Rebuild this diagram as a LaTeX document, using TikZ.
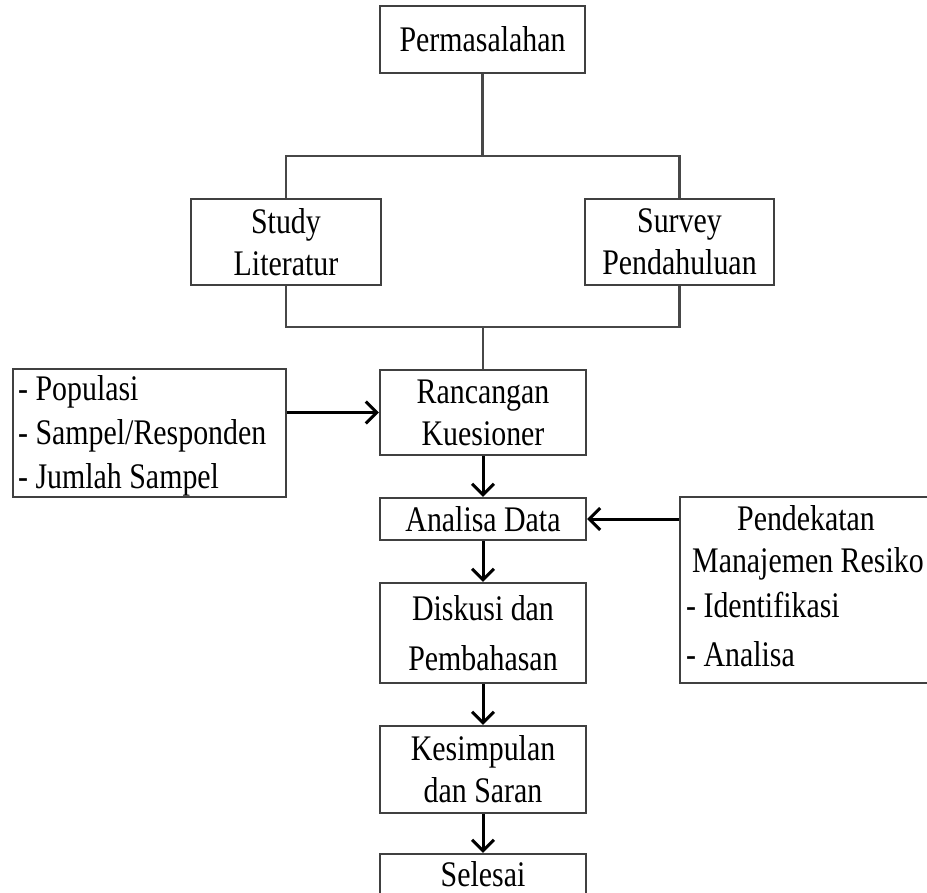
\documentclass[tikz,border=0pt]{standalone}
\usepackage{fontspec}
\setmainfont[FakeStretch=0.83]{Liberation Serif}
\usetikzlibrary{arrows.meta}
\begin{document}
\begin{tikzpicture}[x=1pt,y=-1pt,
  box/.style={draw=black!75, line width=2.2pt, fill=white, inner sep=0pt, align=center, font=\fontsize{36}{42}\selectfont},
  txt/.style={inner sep=0pt, font=\fontsize{36}{42}\selectfont},
  link/.style={draw=black!72, line width=2.2pt},
  arr/.style={draw=black, line width=3pt, -{Straight Barb[length=11pt,width=22pt,line width=3pt]}}
]
\useasboundingbox (0,0) rectangle (927,893);
% boxes
\node[box, minimum width=205pt, minimum height=67pt] (perm) at (482.5,39.5) {Permasalahan};
\node[box, minimum width=190pt, minimum height=86pt] (study) at (286,242) {Study\\Literatur};
\node[box, minimum width=189pt, minimum height=86pt] (survey) at (679.5,242) {Survey\\Pendahuluan};
\node[box, minimum width=206pt, minimum height=85pt] (ranc) at (483,412.5) {Rancangan\\Kuesioner};
\node[box, minimum width=273pt, minimum height=128pt] (list) at (149.5,433) {};
\node[box, minimum width=206pt, minimum height=42pt] (anal) at (483,519) {Analisa Data};
\node[box, minimum width=265pt, minimum height=186pt] (pend) at (812.5,590) {};
\node[box, minimum width=206pt, minimum height=100pt, font=\fontsize{36}{50}\selectfont] (disk) at (483,633) {Diskusi dan\\Pembahasan};
\node[box, minimum width=206pt, minimum height=87pt] (kes) at (483,769.5) {Kesimpulan\\dan Saran};
\node[box, minimum width=206pt, minimum height=56pt] (sel) at (483,882) {};
\node[txt, anchor=base] (selt) at (483,886) {Selesai};
% list texts
\node[txt, anchor=base west] (l1) at (18,401) {- Populasi};
\node[txt, anchor=base west] (l2) at (18,444) {- Sampel/Responden};
\node[txt, anchor=base west] (l3) at (18,488) {- Jumlah Sampel};
% pendekatan texts
\node[txt, anchor=base] (p1) at (806,530) {Pendekatan};
\node[txt, anchor=base west] (p2) at (692,572) {Manajemen Resiko};
\node[txt, anchor=base west] (p3) at (686,617) {- Identifikasi};
\node[txt, anchor=base west] (p4) at (686,666) {- Analisa};
% junction coordinates
\coordinate (tl) at (286,156);
\coordinate (tr) at (679.5,156);
\coordinate (bl) at (286,327);
\coordinate (br) at (679.5,327);
% connectors
\draw[link] (perm.south) -- (perm.south |- tl);
\draw[link] (study.north) -- (tl) -- (tr) -- (survey.north);
\draw[link] (study.south) -- (bl) -- (br) -- (survey.south);
\draw[link] (ranc.north |- bl) -- (ranc.north);
\draw[arr] (list.east |- ranc.west) -- (ranc.west);
\draw[arr] (pend.west |- anal.east) -- (anal.east);
\draw[arr] (ranc.south) -- (anal.north);
\draw[arr] (anal.south) -- (disk.north);
\draw[arr] (disk.south) -- (kes.north);
\draw[arr] (kes.south) -- (sel.north);
\end{tikzpicture}
\end{document}
